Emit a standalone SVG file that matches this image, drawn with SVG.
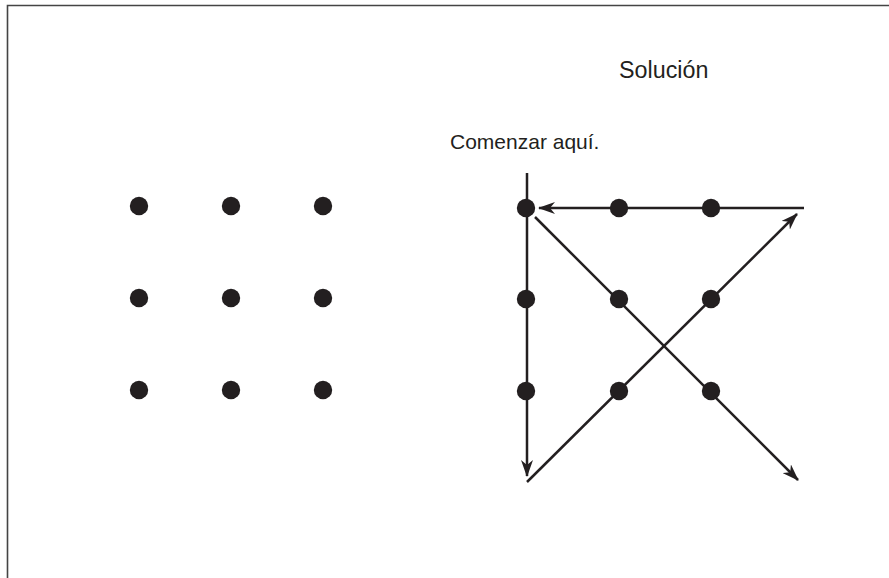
<svg xmlns="http://www.w3.org/2000/svg" width="889" height="578" viewBox="0 0 889 578">
<defs>
<style>
.dot{fill:#231f20}
.ln{stroke:#231f20;stroke-width:2.5;fill:none}
.t{font-family:"Liberation Sans",Arial,sans-serif;fill:#231f20}
</style>
<marker id="ah" viewBox="0 0 17 12" refX="16" refY="6" markerWidth="17" markerHeight="12" markerUnits="userSpaceOnUse" orient="auto">
<path d="M0,0 L17,6 L0,12 L5,6 Z" fill="#231f20"/>
</marker>
</defs>
<rect width="889" height="578" fill="#fff"/>
<path d="M7.5,578 V5.5 H889" fill="none" stroke="#444" stroke-width="1.6"/>
<g id="left-grid">
<circle class="dot" cx="139" cy="206" r="9.2"/><circle class="dot" cx="231" cy="206" r="9.2"/><circle class="dot" cx="323" cy="206" r="9.2"/>
<circle class="dot" cx="139" cy="298" r="9.2"/><circle class="dot" cx="231" cy="298" r="9.2"/><circle class="dot" cx="323" cy="298" r="9.2"/>
<circle class="dot" cx="139" cy="390" r="9.2"/><circle class="dot" cx="231" cy="390" r="9.2"/><circle class="dot" cx="323" cy="390" r="9.2"/>
</g>
<g id="title"><text class="t" x="619" y="78" font-size="23.3">Solución</text></g>
<g id="start-label"><text class="t" x="450" y="149" font-size="21">Comenzar aquí.</text></g>
<g id="connectors">
<line class="ln" x1="527" y1="173" x2="527" y2="476" marker-end="url(#ah)"/>
<line class="ln" x1="527" y1="482" x2="797" y2="214" marker-end="url(#ah)"/>
<line class="ln" x1="804" y1="208" x2="539" y2="208" marker-end="url(#ah)"/>
<line class="ln" x1="535" y1="217" x2="798" y2="480" marker-end="url(#ah)"/>
</g>
<g id="right-grid">
<circle class="dot" cx="526" cy="208" r="9.2"/><circle class="dot" cx="619" cy="208" r="9.2"/><circle class="dot" cx="711" cy="208" r="9.2"/>
<circle class="dot" cx="526" cy="299" r="9.2"/><circle class="dot" cx="619" cy="299" r="9.2"/><circle class="dot" cx="711" cy="299" r="9.2"/>
<circle class="dot" cx="526" cy="391" r="9.2"/><circle class="dot" cx="619" cy="391" r="9.2"/><circle class="dot" cx="711" cy="391" r="9.2"/>
</g>
</svg>
